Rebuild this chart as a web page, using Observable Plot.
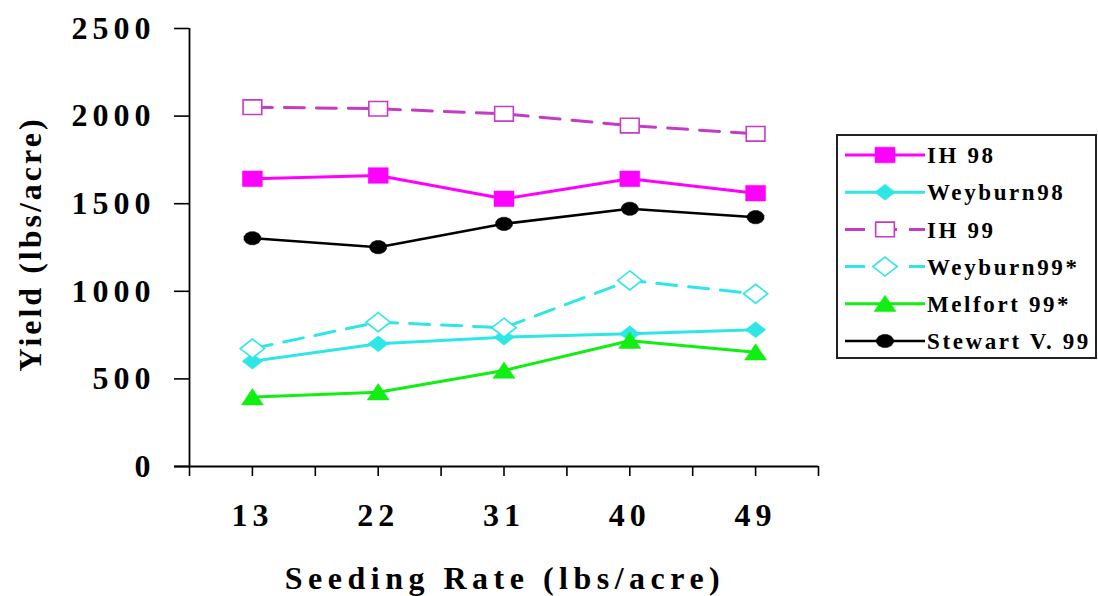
<!DOCTYPE html>
<html>
<head>
<meta charset="utf-8">
<script src="https://cdn.jsdelivr.net/npm/d3@7"></script>
<script src="https://cdn.jsdelivr.net/npm/@observablehq/plot@0.6"></script>
<style>
  html, body { margin: 0; padding: 0; background: #fff; }
  #chart { width: 1098px; height: 596px; }
  #chart svg, #chart svg text { font-family: "Liberation Serif", "Times New Roman", Times, serif; }
</style>
</head>
<body>
<div id="chart"></div>
<script>
// ---- data ----
const categories = ["13", "22", "31", "40", "49"];
const yTicks = [0, 500, 1000, 1500, 2000, 2500];
const seriesNames = ["IH 98", "Weyburn98", "IH 99", "Weyburn99*", "Melfort 99*", "Stewart V. 99"];
const ih98 = [1642, 1661, 1528, 1642, 1560];
const weyburn98 = [601, 700, 738, 757, 780];
const ih99 = [2051, 2042, 2013, 1946, 1899];
const weyburn99 = [673, 824, 792, 1062, 986];
const melfort99 = [396, 424, 548, 718, 652];
const stewart99 = [1303, 1252, 1385, 1471, 1423];
const seriesValues = [ih98, weyburn98, ih99, weyburn99, melfort99, stewart99];

// ---- custom (horizontally stretched) symbols ----
const K = 1.28;
function rOf(size) { return Math.sqrt(size / Math.PI); }
const symSquare = { draw(c, size) { const r = rOf(size), w = r * K; c.moveTo(-w, -r); c.lineTo(w, -r); c.lineTo(w, r); c.lineTo(-w, r); c.closePath(); } };
const symDiamond = { draw(c, size) { const r = rOf(size), w = r * K; c.moveTo(0, -r); c.lineTo(w, 0); c.lineTo(0, r); c.lineTo(-w, 0); c.closePath(); } };
const symTriangle = { draw(c, size) { const r = rOf(size), w = r * K * 1.05; c.moveTo(0, -r * 1.05); c.lineTo(w, r * 0.95); c.lineTo(-w, r * 0.95); c.closePath(); } };
const symCircle = { draw(c, size) { const r = rOf(size), w = r * K; const n = 12; for (let i = 0; i < n; i++) { const a = (i + 0.5) / n * 2 * Math.PI; const px = Math.cos(a) * w, py = Math.sin(a) * r; if (i === 0) c.moveTo(px, py); else c.lineTo(px, py); } c.closePath(); } };

const styles = [
  { color: "#ff00ff", dash: null, symbol: symSquare, r: 7.8, fill: "#ff00ff", sw: 3 },
  { color: "#2ee6e6", dash: null, symbol: symDiamond, r: 8, fill: "#2ee6e6", sw: 3 },
  { color: "#c43cc4", dash: "20,12", symbol: symSquare, r: 7.3, fill: "#ffffff", sw: 3 },
  { color: "#2ee6e6", dash: "20,12", symbol: symDiamond, r: 9.5, fill: "#ffffff", sw: 3 },
  { color: "#11ee11", dash: null, symbol: symTriangle, r: 8.2, fill: "#11ee11", sw: 3 },
  { color: "#000000", dash: null, symbol: symCircle, r: 6.8, fill: "#000000", sw: 2.5 }
];

const rows = [];
seriesNames.forEach((name, s) => {
  categories.forEach((c, i) => rows.push({ series: name, rate: c, yield: seriesValues[s][i] }));
});
const xpos = d => categories.indexOf(d.rate) + 0.5;

const marks = [];
seriesNames.forEach((name, s) => {
  const st = styles[s];
  const data = rows.filter(d => d.series === name);
  marks.push(Plot.line(data, { x: xpos, y: "yield", stroke: st.color, strokeWidth: st.sw, strokeDasharray: st.dash }));
  marks.push(Plot.dot(data, { x: xpos, y: "yield", symbol: st.symbol, r: st.r, fill: st.fill, stroke: st.color, strokeWidth: st.fill === "#ffffff" ? 1.6 : 0.5 }));
});

const xTickPositions = d3.range(0, categories.length + 0.01, 0.5);
const font = '"Liberation Serif", "Times New Roman", Times, serif';

const plot = Plot.plot({
  width: 1098,
  height: 596,
  marginLeft: 189,
  marginRight: 280,
  marginTop: 28,
  marginBottom: 130,
  style: { fontFamily: font, fontSize: "32px", fontWeight: "bold", color: "#000", background: "#fff", overflow: "visible" },
  x: { type: "linear", domain: [0, categories.length] },
  y: { domain: [0, 2500] },
  marks: [
    Plot.axisY({ ticks: yTicks, tickSize: 15, tickPadding: 19, strokeWidth: 1.6, label: null, tickFormat: d => String(d) }),
    Plot.axisX({ ticks: xTickPositions, tickSize: 10, tickPadding: 27, strokeWidth: 1.6, label: null,
      tickFormat: d => Number.isInteger(d) ? "" : categories[Math.floor(d)] }),
    Plot.ruleX([0], { strokeWidth: 1.8 }),
    Plot.ruleY([0], { strokeWidth: 1.8, insetLeft: -15 }),
    ...marks
  ]
});

plot.style.letterSpacing = "5px";
document.getElementById("chart").appendChild(plot);

// ---- titles and legend drawn into the same svg ----
const svg = d3.select(plot);

svg.append("text")
  .attr("transform", "translate(41,244) rotate(-90)")
  .attr("text-anchor", "middle")
  .style("font-family", font).style("font-size", "32px").style("font-weight", "bold")
  .style("letter-spacing", "3px")
  .text("Yield (lbs/acre)");

svg.append("text")
  .attr("x", 505).attr("y", 589)
  .attr("text-anchor", "middle")
  .style("font-family", font).style("font-size", "32px").style("font-weight", "bold")
  .style("letter-spacing", "5.5px")
  .text("Seeding Rate (lbs/acre)");

const lg = svg.append("g");
lg.append("rect").attr("x", 837).attr("y", 135).attr("width", 259).attr("height", 223)
  .attr("fill", "#fff").attr("stroke", "#222").attr("stroke-width", 2);
seriesNames.forEach((name, s) => {
  const st = styles[s];
  const y = 155 + s * 37.2;
  lg.append("line").attr("x1", 845).attr("x2", 925).attr("y1", y).attr("y2", y)
    .attr("stroke", st.color).attr("stroke-width", st.sw)
    .attr("stroke-dasharray", st.dash);
  lg.append("path").attr("transform", `translate(885,${y})`)
    .attr("d", d3.symbol(st.symbol, st.r * st.r * Math.PI)())
    .attr("fill", st.fill).attr("stroke", st.color).attr("stroke-width", st.fill === "#ffffff" ? 1.6 : 0.5);
  lg.append("text").attr("x", 927).attr("y", y).attr("dy", "0.36em")
    .attr("text-anchor", "start")
    .style("font-family", font).style("font-size", "23px").style("font-weight", "bold")
    .style("letter-spacing", "2.6px")
    .text(name);
});
</script>
</body>
</html>
